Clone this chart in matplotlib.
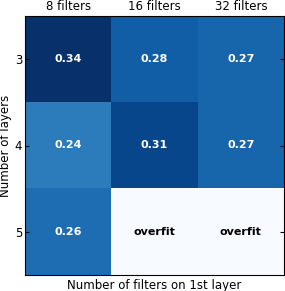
import numpy as np
import matplotlib
matplotlib.use("Agg")
import matplotlib.pyplot as plt

plt.rcParams["font.family"] = "DejaVu Sans"

filters = ["8 filters", "16 filters", "32 filters"]
layers = ["3", "4", "5"]
# overfit cells kept as 0 so they come out white
scores = np.array([[0.34, 0.28, 0.27],
                   [0.24, 0.31, 0.27],
                   [0.26, 0.0, 0.0]])
labels = [["0.34", "0.28", "0.27"],
          ["0.24", "0.31", "0.27"],
          ["0.26", "overfit", "overfit"]]

fig = plt.figure(figsize=(2.85, 2.91), dpi=100)
ax = fig.add_axes([25 / 285, 16 / 291, 259 / 285, 259 / 291])
ax.imshow(scores, cmap="Blues", vmin=0, vmax=0.34, aspect="auto",
          interpolation="nearest")

for i in range(len(layers)):
    for j in range(len(filters)):
        c = "white" if scores[i, j] > 0 else "black"
        ax.text(j, i, labels[i][j], ha="center", va="center",
                color=c, fontsize=8, fontweight="bold")

ax.set_xticks(range(len(filters)))
ax.set_xticklabels(filters)
ax.set_yticks(range(len(layers)))
ax.set_yticklabels(layers)
ax.xaxis.tick_top()
ax.tick_params(axis="both", which="both", direction="in", length=3,
               labelsize=8.5, pad=2, right=True, bottom=False, top=False)
ax.set_xlabel("Number of filters on 1st layer", fontsize=8.5, labelpad=3)
ax.set_ylabel("Number of layers", fontsize=8.5, labelpad=2)

fig.savefig("out.png", dpi=100)
